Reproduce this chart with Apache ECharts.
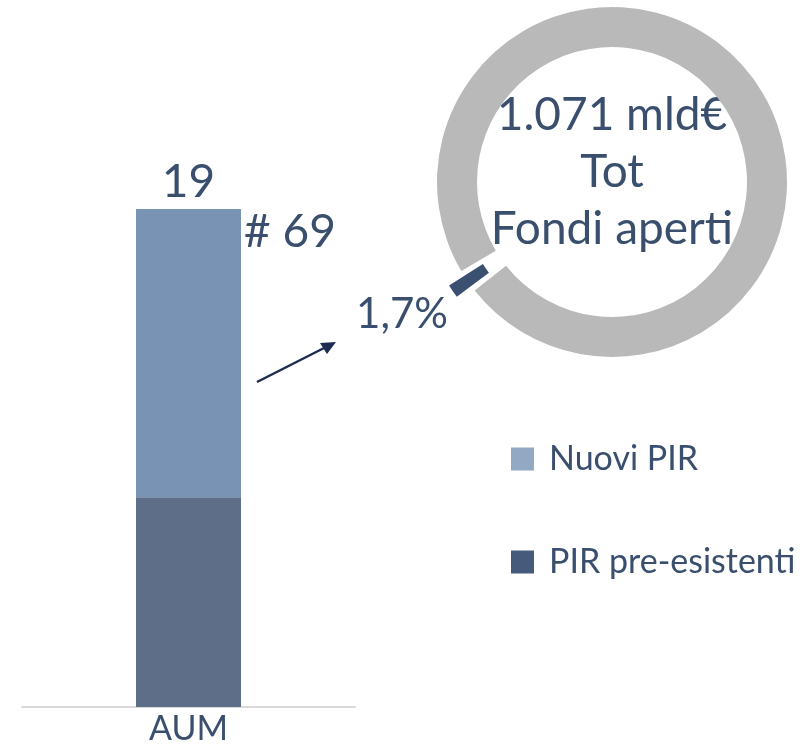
<!DOCTYPE html>
<html>
<head>
<meta charset="utf-8">
<script src="https://cdn.jsdelivr.net/npm/echarts@6/dist/echarts.min.js"></script>
<style>
  html, body { margin: 0; padding: 0; background: #fff; }
  #chart { width: 812px; height: 747px; }
</style>
</head>
<body>
<div id="chart"></div>
<script>
// dati
var categories = ['AUM'];
var preEsistenti = [8];    // parte bassa (mld€)
var nuoviPir = [11];       // parte alta (mld€)
var numFondi = 69;
var quotaNomi = ['PIR', 'Altri fondi aperti'];
var quotaValori = [1.7, 98.3];
var totFondi = '1.071 mld€';

var testo = '#3A4F6D';
var font = 'Lato';

var chart = echarts.init(document.getElementById('chart'), null, { renderer: 'canvas' });

var totali = preEsistenti.map(function (v, i) { return v + nuoviPir[i]; });

var option = {
    animation: false,
    backgroundColor: '#fff',
    textStyle: { fontFamily: font, color: testo },
    grid: { left: 22, width: 333, top: 209, bottom: 40 },
    xAxis: {
        type: 'category',
        data: categories,
        axisLine: { lineStyle: { color: '#D9D9D9', width: 2 } },
        axisTick: { show: false },
        axisLabel: { color: testo, fontSize: 34, fontFamily: font, margin: 5 }
    },
    yAxis: {
        type: 'value',
        min: 0,
        max: totali[0],
        show: false
    },
    legend: {
        orient: 'vertical',
        left: 506,
        top: 437,
        itemWidth: 23,
        itemHeight: 23,
        itemGap: 69,
        icon: 'rect',
        selectedMode: false,
        textStyle: { color: testo, fontSize: 34, fontFamily: font, padding: [0, 0, 0, 10] },
        data: [
            { name: 'Nuovi PIR', itemStyle: { color: '#93A8C2' } },
            { name: 'PIR pre-esistenti', itemStyle: { color: '#465A7B' } }
        ]
    },
    series: [
        {
            name: 'PIR pre-esistenti',
            type: 'bar',
            stack: 'aum',
            barWidth: 105,
            data: preEsistenti,
            itemStyle: { color: '#5E6E89' },
            emphasis: { disabled: true }
        },
        {
            name: 'Nuovi PIR',
            type: 'bar',
            stack: 'aum',
            barWidth: 105,
            data: nuoviPir,
            itemStyle: { color: '#7893B4' },
            emphasis: { disabled: true },
            label: {
                show: true,
                position: 'top',
                distance: 4,
                color: testo,
                fontSize: 46,
                fontFamily: font,
                formatter: function (p) { return String(totali[p.dataIndex]); }
            }
        },
        {
            name: 'Quota',
            type: 'pie',
            center: [612, 182],
            radius: [135, 175],
            startAngle: 217.5,
            padAngle: 1.6,
            selectedMode: 'single',
            selectedOffset: 18,
            label: { show: false },
            labelLine: { show: false },
            emphasis: { disabled: true },
            data: quotaNomi.map(function (n, i) {
                return {
                    name: n,
                    value: quotaValori[i],
                    selected: i === 0,
                    itemStyle: { color: i === 0 ? '#3B5070' : '#BAB9BA' }
                };
            })
        }
    ],
    graphic: [
        {
            type: 'text',
            left: 244,
            top: 209,
            style: { text: '# ' + numFondi, fill: testo, font: '46px ' + font }
        },
        {
            type: 'text',
            x: 612,
            y: 172,
            style: {
                text: totFondi + '\nTot\nFondi aperti',
                fill: testo,
                font: '46px ' + font,
                lineHeight: 57,
                align: 'center',
                verticalAlign: 'middle'
            }
        },
        {
            type: 'text',
            x: 448,
            y: 314,
            style: {
                text: String(quotaValori[0]).replace('.', ',') + '%',
                fill: testo,
                font: '42px ' + font,
                align: 'right',
                verticalAlign: 'middle'
            }
        },
        {
            type: 'line',
            shape: { x1: 257, y1: 382, x2: 326, y2: 347 },
            style: { stroke: '#1C2B4F', lineWidth: 2.5 }
        },
        {
            type: 'polygon',
            shape: { points: [[336, 342], [320, 343], [327, 354]] },
            style: { fill: '#1C2B4F' }
        }
    ]
};

chart.setOption(option);
</script>
</body>
</html>
